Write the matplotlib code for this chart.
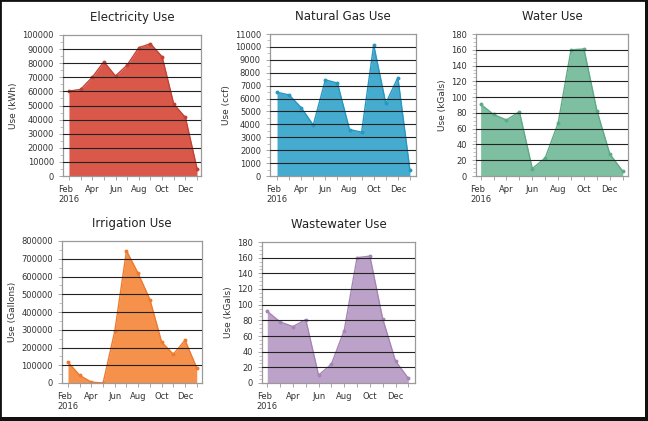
"""Utility use dashboard: five monthly area charts for 2016."""

import matplotlib
matplotlib.use("Agg")
import matplotlib.pyplot as plt
from matplotlib.ticker import MultipleLocator
from matplotlib.patches import Rectangle

# ===============================
# Data (one value per month, Feb 2016 .. Jan 2017)
# ===============================
months = list(range(12))
tick_labels = ["Feb\n2016", "Apr", "Jun", "Aug", "Oct", "Dec"]

electricity = [60200, 61400, 70000, 81000, 70900, 78700, 91000, 93800, 84600, 51000, 41500, 5200]
natural_gas = [6490, 6280, 5300, 3950, 7450, 7200, 3600, 3400, 10150, 5630, 7630, 440]
water = [91, 78, 71, 81.5, 9.3, 23, 67, 160, 161, 83, 28, 6]
irrigation = [118000, 43000, 5000, 0, 292000, 745000, 617000, 470000, 231000, 162000, 241000, 85000]
wastewater = [91.5, 78, 72, 81, 10, 24, 67, 160, 162, 82, 28, 6]


W, H = 648, 421
fig = plt.figure(figsize=(W / 100, H / 100), dpi=100)
fig.patch.set_facecolor("white")


def px_axes(left, top, right, bottom):
    """Axes from pixel box of the plot area."""
    return fig.add_axes([left / W, 1 - bottom / H, (right - left) / W, (bottom - top) / H])


def area_chart(ax, values, title, ylabel, ymax, ystep, fill, line, xlim, minor):
    ax.fill_between(months, values, 0, color=fill, zorder=1, linewidth=0)
    ax.plot(months, values, color=line, linewidth=1.0, zorder=2)
    ax.plot(months, values, "o", color=line, markersize=1.8, zorder=2)

    ax.set_xlim(*xlim)
    ax.set_ylim(0, ymax)
    ax.set_xticks(months[::2])
    ax.set_xticklabels(tick_labels, fontsize=6, color="#333333", ha="center")
    ax.set_xticks(months, minor=True)
    ax.yaxis.set_major_locator(MultipleLocator(ystep))
    ax.yaxis.set_minor_locator(MultipleLocator(ystep / minor))
    ax.tick_params(axis="y", labelsize=6, colors="#333333", length=3, width=0.6)
    ax.tick_params(axis="x", which="both", length=3, width=0.6, colors="#999999", labelcolor="#333333")
    ax.tick_params(axis="y", which="minor", length=2, width=0.5, colors="#aaaaaa")
    ax.tick_params(axis="y", which="major", colors="#999999", labelcolor="#333333")
    for lbl in ax.get_xticklabels():
        lbl.set_multialignment("left")

    # horizontal grid drawn over the fill
    for v in range(ystep, ymax, ystep):
        ax.axhline(v, color="#222222", linewidth=0.8, zorder=3)

    for s in ax.spines.values():
        s.set_color("#9a9a9a")
        s.set_linewidth(0.9)

    ax.set_title(title, fontsize=8.5, color="#222222", pad=10)
    ax.set_ylabel(ylabel, fontsize=6.5, color="#333333", labelpad=3)


ax1 = px_axes(63, 35, 201, 176)
area_chart(ax1, electricity, "Electricity Use", "Use (kWh)", 100000, 10000,
           "#d9584a", "#c24236", (-0.51, 11.34), 2)

ax2 = px_axes(270, 34, 416, 176)
area_chart(ax2, natural_gas, "Natural Gas Use", "Use (ccf)", 11000, 1000,
           "#45abcf", "#2a97c0", (-0.58, 11.5), 2)

ax3 = px_axes(476, 34, 628, 176)
area_chart(ax3, water, "Water Use", "Use (kGals)", 180, 20,
           "#7dbfa0", "#5eaa88", (-0.36, 11.41), 4)

ax4 = px_axes(62, 241, 202, 383)
area_chart(ax4, irrigation, "Irrigation Use", "Use (Gallons)", 800000, 100000,
           "#f6914c", "#ec7a30", (-0.51, 11.45), 2)

ax5 = px_axes(262, 242, 415, 383)
area_chart(ax5, wastewater, "Wastewater Use", "Use (kGals)", 180, 20,
           "#bca2c9", "#a585b5", (-0.41, 11.52), 4)

# dark frame with heavier right/bottom edge
fig.patches.append(Rectangle((0, 0), 1, 1, transform=fig.transFigure, fill=False,
                             edgecolor="#111111", linewidth=2.0))
fig.patches.append(Rectangle((645 / W, 0), 3 / W, 1, transform=fig.transFigure,
                             facecolor="#111111", edgecolor="none"))
fig.patches.append(Rectangle((0, 0), 1, 4 / H, transform=fig.transFigure,
                             facecolor="#111111", edgecolor="none"))

fig.savefig("out.png", dpi=100)
